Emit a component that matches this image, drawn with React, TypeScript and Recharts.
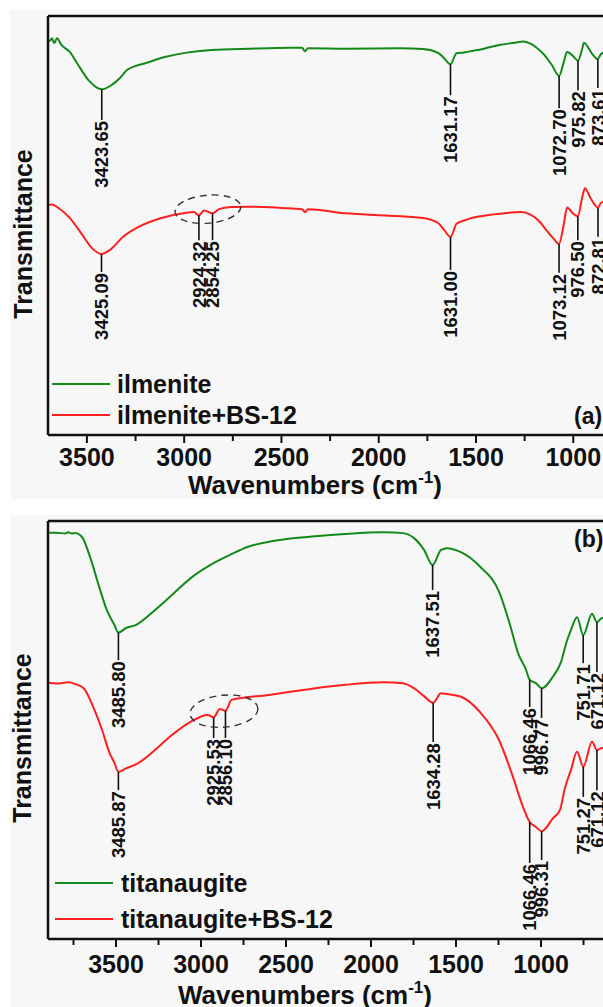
import React from 'react'
import { ComposedChart, Line, Scatter, XAxis, YAxis, ReferenceLine } from 'recharts'

const FONT = '"Liberation Sans", Arial, Helvetica, sans-serif'
const GREEN = '#13891a'
const RED = '#ff1f1f'
const INK = '#111'

// panel (a): ilmenite
const ilmeniteWn = [3700, 3688, 3679, 3670, 3664, 3654, 3631, 3587, 3551, 3492, 3423.65, 3374, 3330, 3294, 3248, 3196, 3099, 2996, 2860, 2662, 2456, 2394, 2379, 2364, 2168, 1891, 1772, 1695, 1665, 1631.17, 1600, 1560, 1540, 1500, 1450, 1380, 1300, 1260, 1220, 1190, 1150, 1110, 1072.70, 1050, 1032, 1000, 975.82, 955, 945, 920, 900, 873.61, 860, 849, 830]
const ilmeniteT = [93.9, 94.2, 94.7, 93.6, 93.8, 94.7, 93.1, 91.4, 88.8, 84.7, 82.5, 83.5, 85.2, 87.1, 88.1, 88.8, 90.2, 91.2, 91.9, 92.2, 92.4, 92.4, 91.6, 92.3, 92.2, 92.3, 92.1, 91.2, 90.0, 88.5, 91.1, 91.3, 91.5, 91.8, 92.3, 93.1, 93.6, 93.9, 93.4, 92.5, 90.8, 88.3, 85.7, 88.8, 91.4, 90.4, 89.3, 92.0, 93.6, 92.2, 90.8, 89.7, 90.8, 91.2, 91.5]

const ilmeniteBsWn = [3700, 3679, 3650, 3592, 3530, 3474, 3425.09, 3381, 3314, 3237, 3117, 2996, 2950, 2924.32, 2898, 2854.25, 2821, 2759, 2660, 2500, 2394, 2379, 2364, 2168, 1968, 1772, 1695, 1665, 1631.00, 1600, 1560, 1530, 1450, 1380, 1269, 1220, 1181, 1130, 1100, 1073.12, 1050, 1032, 1000, 976.50, 955, 940, 914, 890, 872.81, 860, 849, 830]
const ilmeniteBsT = [54.9, 55.0, 54.3, 52.0, 48.2, 44.6, 43.2, 44.2, 47.3, 49.6, 51.8, 53.0, 53.2, 52.4, 53.6, 52.9, 53.9, 54.4, 54.5, 54.2, 53.9, 53.2, 53.9, 52.9, 52.4, 51.8, 50.6, 49.0, 47.3, 50.4, 51.2, 51.7, 52.4, 52.8, 53.2, 52.6, 51.3, 48.4, 46.8, 45.6, 50.0, 54.3, 52.8, 52.2, 56.5, 58.9, 56.8, 55.0, 54.2, 55.3, 55.6, 56.0]

const ilmenitePeakWn = [3423.65, 1631.17, 1072.70, 975.82, 873.61]
const ilmenitePeakLabelT = [75.2, 81.1, 78.0, 82.3, 82.8]
const ilmeniteBsPeakWn = [3425.09, 2924.32, 2854.25, 1631.00, 1073.12, 976.50, 872.81]
const ilmeniteBsPeakLabelT = [38.9, 46.5, 46.5, 39.4, 38.7, 46.5, 47.3]

// panel (b): titanaugite
const titanaugiteWn = [3900, 3850, 3800, 3780, 3760, 3740, 3702, 3647, 3600, 3555, 3509, 3485.80, 3441, 3385, 3282, 3171, 3059, 2944, 2829, 2718, 2606, 2376, 2153, 1924, 1812, 1747, 1688, 1637.51, 1588, 1553, 1474, 1359, 1247, 1179, 1135, 1088, 1066.46, 1030, 996.77, 929, 882, 850, 824, 788, 751.71, 700, 671.12, 641, 620]
const titanaugiteT = [97.2, 97.2, 97.0, 97.3, 97.0, 97.1, 96.3, 90.7, 84.4, 78.8, 75.1, 73.3, 74.4, 75.1, 78.3, 82.3, 86.4, 89.5, 91.9, 93.9, 95.0, 96.2, 96.9, 97.3, 97.1, 95.9, 93.1, 89.5, 93.1, 93.5, 92.6, 89.1, 83.1, 74.7, 68.4, 64.4, 62.0, 61.2, 60.0, 62.8, 66.3, 71.0, 73.9, 77.0, 72.7, 77.8, 75.8, 76.8, 76.5]

const titanaugiteBsWn = [3900, 3850, 3780, 3740, 3690, 3635, 3582, 3538, 3509, 3485.87, 3441, 3368, 3282, 3171, 3059, 2961, 2925.53, 2890, 2856.10, 2820, 2600, 2376, 2153, 1924, 1812, 1747, 1688, 1634.28, 1588, 1553, 1474, 1359, 1247, 1165, 1106, 1066.46, 1030, 996.31, 929, 888, 860, 824, 788, 751.27, 700, 671.12, 641, 620]
const titanaugiteBsT = [61.3, 61.1, 61.4, 61.0, 60.0, 55.6, 50.0, 44.5, 42.1, 40.0, 40.8, 42.1, 44.8, 48.8, 52.0, 53.6, 53.0, 55.0, 54.6, 57.2, 58.4, 59.7, 60.8, 61.4, 61.2, 60.0, 58.1, 56.5, 58.8, 58.6, 58.0, 54.3, 47.6, 38.8, 31.6, 28.0, 26.8, 25.8, 28.9, 30.9, 36.0, 40.4, 44.8, 41.2, 47.2, 45.2, 45.7, 45.5]

const titanaugitePeakWn = [3485.80, 1637.51, 1066.46, 996.77, 751.71, 671.12]
const titanaugitePeakLabelT = [66.7, 83.5, 55.5, 52.9, 66.0, 63.9]
const titanaugiteBsPeakWn = [3485.87, 2925.53, 2856.10, 1634.28, 1066.46, 996.31, 751.27, 671.12]
const titanaugiteBsPeakLabelT = [35.6, 48.1, 48.1, 47.1, 18.2, 18.9, 34.0, 35.6]

const ticksA = [3500, 3250, 3000, 2750, 2500, 2250, 2000, 1750, 1500, 1250, 1000, 750, 500]
const ticksB = [3750, 3500, 3250, 3000, 2750, 2500, 2250, 2000, 1750, 1500, 1250, 1000, 750, 500]

type Pt = { wn: number; t: number }

const toPoints = (wn: number[], t: number[]): Pt[] => wn.map((w, i) => ({ wn: w, t: t[i] }))

const toPeaks = (series: Pt[], wn: number[], labelT: number[]) =>
  wn.map((w, i) => ({
    wn: w,
    t: labelT[i],
    from: series.find((p) => p.wn === w)?.t ?? labelT[i],
    text: w.toFixed(2),
  }))

const PeakLabel = (props: any) => {
  const { cx, cy, payload } = props
  const y = cy + 1
  return (
    <text
      x={cx}
      y={y}
      dy="0.36em"
      transform={`rotate(-90 ${cx} ${y})`}
      textAnchor="end"
      fontFamily={FONT}
      fontWeight="bold"
      fontSize={18.5}
      fill={INK}
    >
      {payload.text}
    </text>
  )
}

const makeEllipse = (rx: number, ry: number) => (props: any) => (
  <ellipse
    cx={props.cx}
    cy={props.cy}
    rx={rx}
    ry={ry}
    transform={`rotate(-5 ${props.cx} ${props.cy})`}
    fill="none"
    stroke="#333"
    strokeWidth={1.4}
    strokeDasharray="7 5"
  />
)

const makeTick = (margin: number) => (props: any) => {
  const { x, y, payload } = props
  const axisY = y - margin
  const major = payload.value % 500 === 0
  return (
    <g>
      <line x1={x} x2={x} y1={axisY} y2={axisY + (major ? 8 : 6)} stroke={INK} strokeWidth={2} />
      {major && (
        <text x={x} y={y} dy="0.71em" textAnchor="middle" fontFamily={FONT} fontWeight="bold" fontSize={25} fill={INK}>
          {payload.value}
        </text>
      )}
    </g>
  )
}

interface PanelProps {
  top: number
  width: number
  height: number
  xAxisHeight: number
  maxWn: number
  ticks: number[]
  tickMargin: number
  green: Pt[]
  red: Pt[]
  greenPeaks: ReturnType<typeof toPeaks>
  redPeaks: ReturnType<typeof toPeaks>
  ellipse: Pt[]
  ellipseR: [number, number]
  xTitle: [number, number]
  yTitle: [number, number]
}

function Panel(p: PanelProps) {
  const xTitle = () => (
    <text x={p.xTitle[0]} y={p.xTitle[1]} textAnchor="middle" fontFamily={FONT} fontWeight="bold" fontSize={26} fill={INK}>
      Wavenumbers (cm<tspan dy={-11} fontSize={17}>-1</tspan>
      <tspan dy={11}>)</tspan>
    </text>
  )
  const yTitle = () => (
    <text
      x={p.yTitle[0]}
      y={p.yTitle[1]}
      transform={`rotate(-90 ${p.yTitle[0]} ${p.yTitle[1]})`}
      textAnchor="middle"
      dominantBaseline="central"
      fontFamily={FONT}
      fontWeight="bold"
      fontSize={25}
      fill={INK}
    >
      Transmittance
    </text>
  )
  return (
    <div style={{ position: 'absolute', left: 0, top: p.top }}>
      <ComposedChart width={p.width} height={p.height} margin={{ top: 16, right: 10, bottom: 0, left: 8 }}>
        <XAxis
          type="number"
          dataKey="wn"
          domain={[400, p.maxWn]}
          reversed
          allowDataOverflow
          ticks={p.ticks}
          interval={0}
          tickSize={0}
          tickMargin={p.tickMargin}
          tickLine={false}
          tick={makeTick(p.tickMargin)}
          axisLine={{ stroke: INK, strokeWidth: 2.5 }}
          height={p.xAxisHeight}
          label={xTitle}
        />
        <YAxis
          type="number"
          dataKey="t"
          domain={[0, 100]}
          allowDataOverflow
          width={40}
          tick={false}
          tickLine={false}
          axisLine={{ stroke: INK, strokeWidth: 2.5 }}
          label={yTitle}
        />
        <ReferenceLine y={100} stroke={INK} strokeWidth={2.5} />
        <ReferenceLine x={400} stroke={INK} strokeWidth={2.5} />
        <Line data={p.green} dataKey="t" type="monotone" stroke={GREEN} strokeWidth={2} dot={false} isAnimationActive={false} />
        <Line data={p.red} dataKey="t" type="monotone" stroke={RED} strokeWidth={2} dot={false} isAnimationActive={false} />
        {[...p.greenPeaks, ...p.redPeaks].map((pk, i) => (
          <ReferenceLine
            key={`pk-${i}`}
            segment={[
              { x: pk.wn, y: pk.from },
              { x: pk.wn, y: pk.t },
            ]}
            stroke={INK}
            strokeWidth={1.6}
          />
        ))}
        <Scatter data={p.greenPeaks} dataKey="t" shape={PeakLabel} isAnimationActive={false} />
        <Scatter data={p.redPeaks} dataKey="t" shape={PeakLabel} isAnimationActive={false} />
        <Scatter data={p.ellipse} dataKey="t" shape={makeEllipse(p.ellipseR[0], p.ellipseR[1])} isAnimationActive={false} />
      </ComposedChart>
    </div>
  )
}

const LegendRow = ({ left, y, color, text, textLeft }: { left: number; y: number; color: string; text: string; textLeft: number }) => (
  <div style={{ position: 'absolute', left, top: y - 15, height: 30, display: 'flex', alignItems: 'center', whiteSpace: 'nowrap' }}>
    <div style={{ width: 58, height: 2.2, background: color }} />
    <span style={{ marginLeft: textLeft - left - 58, font: `bold 25px ${FONT}`, color: INK }}>{text}</span>
  </div>
)

export default function App() {
  const green = toPoints(ilmeniteWn, ilmeniteT)
  const red = toPoints(ilmeniteBsWn, ilmeniteBsT)
  const greenB = toPoints(titanaugiteWn, titanaugiteT)
  const redB = toPoints(titanaugiteBsWn, titanaugiteBsT)

  return (
    <div style={{ position: 'absolute', left: 0, top: 0, width: 603, height: 1007, overflow: 'hidden', background: '#fff' }}>
      <div style={{ position: 'absolute', left: 10, top: 10, width: 593, height: 489, background: '#f7f7f7' }} />
      <div style={{ position: 'absolute', left: 10, top: 515, width: 593, height: 492, background: '#f7f7f7' }} />

      <Panel
        top={0}
        width={700}
        height={500}
        xAxisHeight={65}
        maxWn={3700}
        ticks={ticksA}
        tickMargin={13}
        green={green}
        red={red}
        greenPeaks={toPeaks(green, ilmenitePeakWn, ilmenitePeakLabelT)}
        redPeaks={toPeaks(red, ilmeniteBsPeakWn, ilmeniteBsPeakLabelT)}
        ellipse={[{ wn: 2878, t: 53.9 }]}
        ellipseR={[33, 14]}
        xTitle={[315, 494]}
        yTitle={[23, 234]}
      />
      <Panel
        top={505}
        width={653}
        height={502}
        xAxisHeight={68}
        maxWn={3900}
        ticks={ticksB}
        tickMargin={16}
        green={greenB}
        red={redB}
        greenPeaks={toPeaks(greenB, titanaugitePeakWn, titanaugitePeakLabelT)}
        redPeaks={toPeaks(redB, titanaugiteBsPeakWn, titanaugiteBsPeakLabelT)}
        ellipse={[{ wn: 2865, t: 54.5 }]}
        ellipseR={[34, 16]}
        xTitle={[305, 499]}
        yTitle={[22, 233]}
      />

      <LegendRow left={52} y={384} color={GREEN} text="ilmenite" textLeft={117} />
      <LegendRow left={52} y={415} color={RED} text="ilmenite+BS-12" textLeft={117} />
      <LegendRow left={55} y={883} color={GREEN} text="titanaugite" textLeft={121} />
      <LegendRow left={55} y={919} color={RED} text="titanaugite+BS-12" textLeft={121} />

      <div style={{ position: 'absolute', left: 574, top: 403, font: `bold 23px ${FONT}`, color: INK, whiteSpace: 'nowrap' }}>(a)</div>
      <div style={{ position: 'absolute', left: 574, top: 526, font: `bold 23px ${FONT}`, color: INK, whiteSpace: 'nowrap' }}>(b)</div>
    </div>
  )
}
